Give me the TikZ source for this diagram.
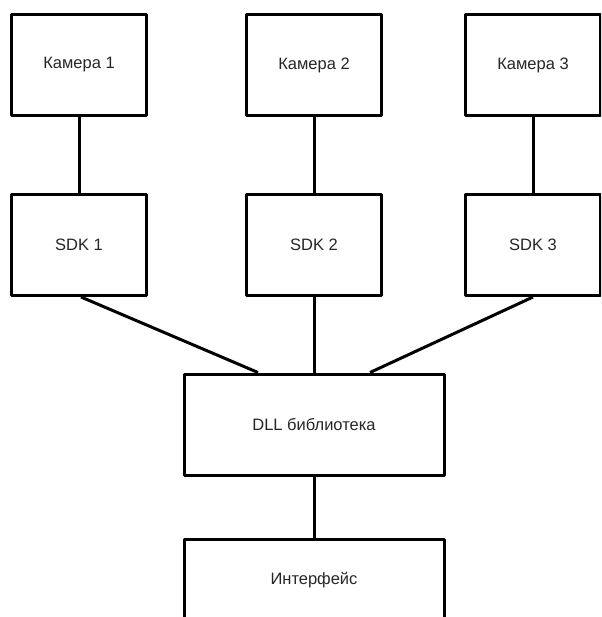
\documentclass[tikz,border=0pt]{standalone}
\usepackage{fontspec}
\setmainfont{Liberation Sans}

\begin{document}
\begin{tikzpicture}[
        x = 1pt, y = -1pt,
        line join=round,
        blok/.style = {draw, line width=3pt, minimum width=135pt, minimum height=101pt,
                       inner sep=0pt, font=\fontsize{16.5}{18}\selectfont, text=black!85},
        svyaz/.style = {line width=3pt}
    ]

    \useasboundingbox (0,0) rectangle (601,617);
    \clip (0,0) rectangle (601,617);

    % kamery
    \node[blok] (cam1) at (79,65)  {Камера 1};
    \node[blok] (cam2) at (314,65) {Камера 2};
    \node[blok] (cam3) at (533,65) {Камера 3};

    % SDK
    \node[blok] (sdk1) at (79,245)  {SDK 1};
    \node[blok] (sdk2) at (314,245) {SDK 2};
    \node[blok] (sdk3) at (533,245) {SDK 3};

    \node[blok, minimum width=260pt] (dll) at (314,424.5) {DLL библиотека};
    \node[blok, minimum width=260pt, minimum height=82pt] (ui) at (314,580) {Интерфейс};

    \draw[svyaz] (cam1) -- (sdk1);
    \draw[svyaz] (cam2) -- (sdk2);
    \draw[svyaz] (cam3) -- (sdk3);

    \draw[svyaz] ([xshift=2pt]sdk1.south) -- ([xshift=-56pt]dll.north);
    \draw[svyaz] (sdk2.south) -- (dll.north);
    \draw[svyaz] (sdk3.south) -- ([xshift=56pt]dll.north);

    \draw[svyaz] (dll) -- (ui);

\end{tikzpicture}
\end{document}
